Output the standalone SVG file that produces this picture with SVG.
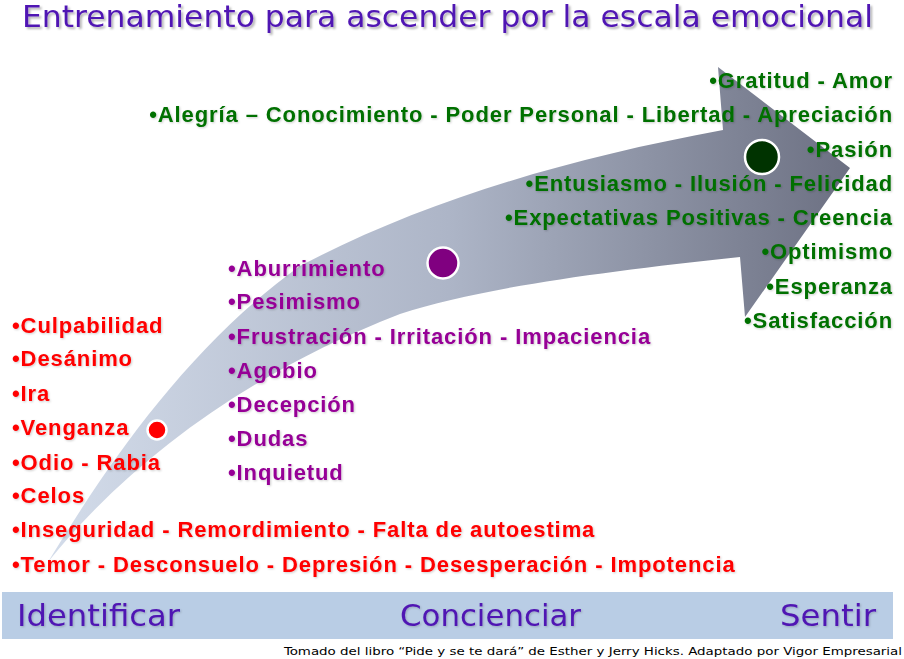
<svg xmlns="http://www.w3.org/2000/svg" width="904" height="659" viewBox="0 0 904 659">
<defs>
<linearGradient id="ag" x1="48" y1="0" x2="850" y2="0" gradientUnits="userSpaceOnUse">
<stop offset="0" stop-color="#d3dcea"/>
<stop offset="0.5" stop-color="#adb5c7"/>
<stop offset="1" stop-color="#6c7082"/>
</linearGradient>
<filter id="sh" x="-5%" y="-20%" width="110%" height="150%">
<feDropShadow dx="2" dy="2" stdDeviation="1" flood-color="#000" flood-opacity="0.3"/>
</filter>
<filter id="ts" x="-5%" y="-20%" width="110%" height="150%">
<feDropShadow dx="1" dy="1" stdDeviation="0.8" flood-color="#000" flood-opacity="0.2"/>
</filter>
</defs>
<style>
.t{font-family:"Liberation Sans",Arial,sans-serif;font-weight:bold;font-size:22px;letter-spacing:0.9px}
.r{fill:#ff0000}
.p{fill:#960096}
.g{fill:#007000}
.e{text-anchor:end}
.h{font-family:"DejaVu Sans Condensed","DejaVu Sans",sans-serif;fill:#5014b3}
.dot{stroke:#fff;stroke-width:2.5}
</style>
<rect width="904" height="659" fill="#fff"/>
<text class="h" x="22" y="27" font-size="30" textLength="851" lengthAdjust="spacingAndGlyphs" filter="url(#sh)">Entrenamiento para ascender por la escala emocional</text>

<g id="arrow">
<path d="M48,562 C110,460 190,345 300,266 C420,203 560,160 723,130 L718,67 L850,168 L745,317 L740,257 C600,272 480,288 400,314 C250,372 130,460 48,562 Z" fill="url(#ag)"/>
</g>

<g id="dots">
<circle class="dot" cx="157" cy="430" r="9.5" fill="#ff0000"/>
<circle class="dot" cx="443" cy="263" r="15.5" fill="#800080"/>
<circle class="dot" cx="762" cy="157" r="17" fill="#003300"/>
</g>

<g id="red" class="t r" filter="url(#ts)">
<text x="12" y="333">•Culpabilidad</text>
<text x="12" y="366">•Desánimo</text>
<text x="12" y="401">•Ira</text>
<text x="12" y="435">•Venganza</text>
<text x="12" y="470">•Odio - Rabia</text>
<text x="12" y="503">•Celos</text>
<text x="12" y="537">•Inseguridad - Remordimiento - Falta de autoestima</text>
<text x="12" y="572">•Temor - Desconsuelo - Depresión - Desesperación - Impotencia</text>
</g>

<g id="purple" class="t p" filter="url(#ts)">
<text x="228" y="276">•Aburrimiento</text>
<text x="228" y="309">•Pesimismo</text>
<text x="228" y="344">•Frustración - Irritación - Impaciencia</text>
<text x="228" y="378">•Agobio</text>
<text x="228" y="412">•Decepción</text>
<text x="228" y="446">•Dudas</text>
<text x="228" y="480">•Inquietud</text>
</g>

<g id="green" class="t g e" filter="url(#ts)">
<text x="893" y="88">•Gratitud - Amor</text>
<text x="893" y="122">•Alegría – Conocimiento - Poder Personal - Libertad - Apreciación</text>
<text x="893" y="157">•Pasión</text>
<text x="893" y="191">•Entusiasmo - Ilusión - Felicidad</text>
<text x="893" y="225">•Expectativas Positivas - Creencia</text>
<text x="893" y="259">•Optimismo</text>
<text x="893" y="294">•Esperanza</text>
<text x="893" y="328">•Satisfacción</text>
</g>

<g id="bar">
<rect x="2" y="592" width="891" height="47" fill="#b9cde5"/>
<g class="h" font-size="30" filter="url(#ts)">
<text x="17" y="626" textLength="163" lengthAdjust="spacingAndGlyphs">Identificar</text>
<text x="400" y="626" textLength="181" lengthAdjust="spacingAndGlyphs">Concienciar</text>
<text x="780" y="626" textLength="96" lengthAdjust="spacingAndGlyphs">Sentir</text>
</g>
</g>
<text x="284" y="655" font-family="'DejaVu Sans Condensed','DejaVu Sans',sans-serif" font-size="11" fill="#000" textLength="618" lengthAdjust="spacingAndGlyphs">Tomado del libro “Pide y se te dará” de Esther y Jerry Hicks. Adaptado por Vigor Empresarial</text>
</svg>
